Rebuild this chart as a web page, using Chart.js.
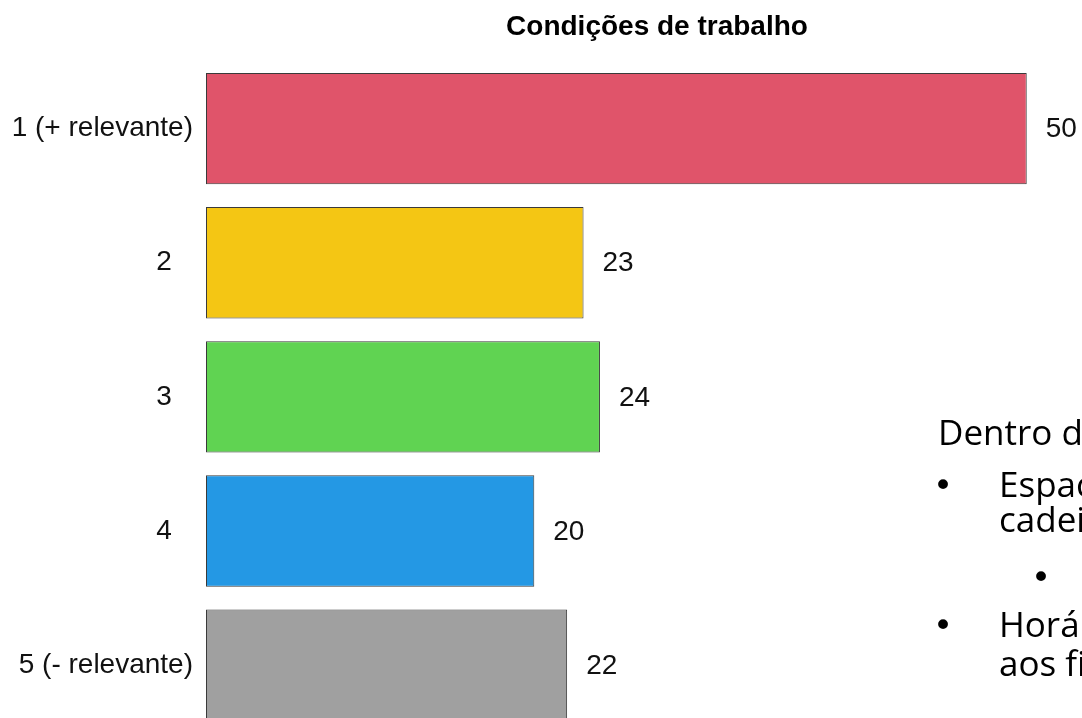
<!DOCTYPE html>
<html>
<head>
<meta charset="utf-8">
<script src="https://cdn.jsdelivr.net/npm/chart.js@4.4.0/dist/chart.umd.min.js"></script>
<style>
  html, body { margin: 0; padding: 0; background: #fff; }
  #page { position: relative; width: 1082px; height: 718px; overflow: hidden; background: #fff; }
  #chart1 { position: absolute; left: 0; top: 0; }
  .slide { position: absolute; white-space: nowrap; font-family: "Open Sans", sans-serif; font-size: 35px; line-height: 30px; color: #000; }
  .dot { position: absolute; font-family: "DejaVu Sans", sans-serif; font-size: 34px; line-height: 30px; color: #000; }
</style>
</head>
<body>
<div id="page">
  <canvas id="chart1" width="1314" height="762"></canvas>
  <div class="slide" style="left:938px; top:417px;">Dentro das condições de trabalho:</div>
  <div class="dot" style="left:933px; top:470px;">•</div>
  <div class="slide" style="left:999px; top:469px;">Espaço de trabalho</div>
  <div class="slide" style="left:999px; top:504px;">cadeiras</div>
  <div class="dot" style="left:1031px; top:562px;">•</div>
  <div class="dot" style="left:933px; top:610px;">•</div>
  <div class="slide" style="left:999px; top:609px;">Horário</div>
  <div class="slide" style="left:999px; top:648px;">aos fins de semana</div>
</div>
<script>
// data
var categories = ['1 (+ relevante)', '2', '3', '4', '5 (- relevante)'];
var values = [50, 23, 24, 20, 22];
var barColors = ['#e0546a', '#f4c614', '#60d352', '#2498e4', '#a0a0a0'];

// numbers at the end of each bar
var valueLabels = {
  id: 'valueLabels',
  afterDatasetsDraw: function(chart) {
    var ctx = chart.ctx;
    var meta = chart.getDatasetMeta(0);
    ctx.save();
    ctx.font = '28px "Liberation Sans", Arial, sans-serif';
    ctx.fillStyle = '#111';
    ctx.textAlign = 'left';
    ctx.textBaseline = 'middle';
    meta.data.forEach(function(bar, i) {
      ctx.fillText(values[i], bar.x + 19, bar.y + 1);
    });
    ctx.restore();
  }
};

var barChart1 = new Chart('chart1', {
  type: 'bar',
  data: {
    labels: categories,
    datasets: [{
      data: values,
      backgroundColor: barColors,
      borderColor: '#3a3a3a',
      borderWidth: 1,
      borderSkipped: false,
      barPercentage: 0.83,
      categoryPercentage: 1
    }]
  },
  options: {
    indexAxis: 'y',
    responsive: false,
    animation: false,
    layout: { padding: 0 },
    plugins: {
      legend: { display: false },
      tooltip: { enabled: false },
      title: {
        display: true,
        text: 'Condições de trabalho',
        color: '#000',
        font: { family: '"Liberation Sans", Arial, sans-serif', size: 28, weight: 'bold' },
        padding: { top: 10, bottom: 18 }
      }
    },
    scales: {
      // 50 ends at about x=1026 in the original
      x: { display: false, min: 0, max: 67.5 },
      y: {
        grid: { display: false, drawTicks: false },
        border: { display: false },
        afterFit: function(scale) { scale.width = 206; },
        ticks: {
          color: '#111',
          padding: 13,
          font: { family: '"Liberation Sans", Arial, sans-serif', size: 28 },
          callback: function(value) {
            var l = this.getLabelForValue(value);
            return l.length < 3 ? l + '  \u2009' : l;
          }
        }
      }
    }
  },
  plugins: [valueLabels]
});
</script>
</body>
</html>
